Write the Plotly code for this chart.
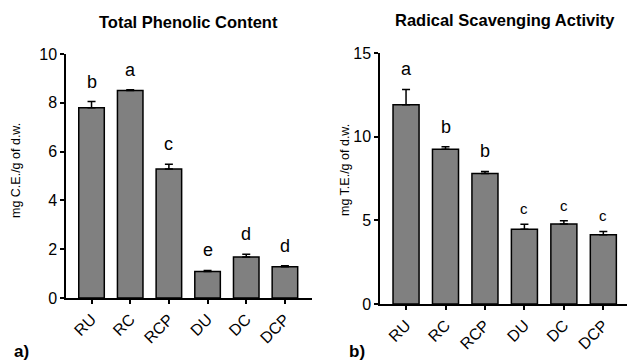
import plotly.graph_objects as go

# Sample groups
groups = ["RU", "RC", "RCP", "DU", "DC", "DCP"]

# Total phenolic content (mg C.E./g of d.w.)
tpc_mean = [7.80, 8.50, 5.29, 1.09, 1.68, 1.28]
tpc_err = [0.25, 0.03, 0.19, 0.04, 0.11, 0.04]
tpc_letters = ["b", "a", "c", "e", "d", "d"]

# Radical scavenging activity (mg T.E./g of d.w.)
rsa_mean = [11.90, 9.25, 7.80, 4.46, 4.78, 4.14]
rsa_err = [0.92, 0.14, 0.12, 0.30, 0.19, 0.20]
rsa_letters = ["a", "b", "b", "c", "c", "c"]

FONT = "Arial"
BAR_COLOR = "#808080"

W, H = 628, 364
BOTTOM = 60          # bottom margin reserved for the slanted category labels
PH = H - BOTTOM      # height of the plotting area in pixels


def fy(py):
    """Pixel row (from top of page) -> paper fraction."""
    return (PH - py) / PH


fig = go.Figure()


def add_panel(xa, ya, means, errs):
    fig.add_trace(go.Bar(
        x=groups, y=means, xaxis=xa, yaxis=ya,
        marker=dict(color=BAR_COLOR, line=dict(color="black", width=1.5)),
        width=0.66,
        error_y=dict(type="data", array=errs, arrayminus=[0] * len(errs),
                     symmetric=False, color="black", thickness=1.5, width=4),
        showlegend=False,
    ))


add_panel("x", "y", tpc_mean, tpc_err)
add_panel("x2", "y2", rsa_mean, rsa_err)

annotations = []


def add_letters(xref, yref, means, errs, letters, size, shift):
    for g, m, e, t in zip(groups, means, errs, letters):
        annotations.append(dict(
            x=g, y=m + e, xref=xref, yref=yref, text=t, showarrow=False,
            yanchor="bottom", yshift=shift,
            font=dict(size=size, color="black"),
        ))


add_letters("x", "y", tpc_mean, tpc_err, tpc_letters, 18, 8)
add_letters("x2", "y2", rsa_mean[:3], rsa_err[:3], rsa_letters[:3], 18, 8)
for g, m, e, t in zip(groups[3:], rsa_mean[3:], rsa_err[3:], rsa_letters[3:]):
    annotations.append(dict(
        x=g, y=m + e, xref="x2", yref="y2", text=t, showarrow=False,
        yanchor="bottom", yshift=5,
        font=dict(size=15, color="black"),
    ))

# Panel titles, axis titles and panel tags (positions in pixels)
annotations += [
    dict(x=188, y=22, text="<b>Total Phenolic Content</b>", size=16.5),
    dict(x=505, y=20, text="<b>Radical Scavenging Activity</b>", size=16.5),
    dict(x=16, y=171, text="mg C.E./g of d.w.", textangle=-90, size=12.5),
    dict(x=345, y=170, text="mg T.E./g of d.w.", textangle=-90, size=12.5),
    dict(x=21, y=351, text="<b>a)</b>", size=17),
    dict(x=357, y=351, text="<b>b)</b>", size=17),
]
for a in annotations:
    if "xref" not in a:
        a["xref"] = "paper"
        a["yref"] = "paper"
        a["x"] = a["x"] / W
        a["y"] = fy(a["y"])
        a["showarrow"] = False
        a["xanchor"] = "center"
        a["yanchor"] = "middle"
        a["font"] = dict(size=a.pop("size", 14), color="black")

common_x = dict(showline=True, linecolor="black", linewidth=1.5, ticks="outside",
                ticklen=4, tickwidth=1.5, tickcolor="black",
                tickangle=-45, tickfont=dict(size=16, color="black"),
                showgrid=False, zeroline=False)
common_y = dict(showline=True, linecolor="black", linewidth=1.5, ticks="outside",
                ticklen=4, tickwidth=1.5, tickcolor="black",
                tickfont=dict(size=16, color="black"),
                showgrid=False, zeroline=False)

fig.update_layout(
    width=W, height=H,
    font=dict(family=FONT, color="black"),
    margin=dict(l=0, r=0, t=0, b=BOTTOM, autoexpand=False),
    paper_bgcolor="white", plot_bgcolor="white",
    bargap=0.34,
    xaxis=dict(common_x, domain=[66 / W, 312 / W], range=[-0.66, 5.7], anchor="y"),
    yaxis=dict(common_y, domain=[fy(298), fy(54)], range=[0, 10], dtick=2, anchor="x"),
    xaxis2=dict(common_x, domain=[380 / W, 627 / W], range=[-0.66, 5.6], anchor="y2"),
    yaxis2=dict(common_y, domain=[fy(304), fy(53)], range=[0, 15], dtick=5, anchor="x2"),
    annotations=annotations,
)

fig.write_html("out.html")
